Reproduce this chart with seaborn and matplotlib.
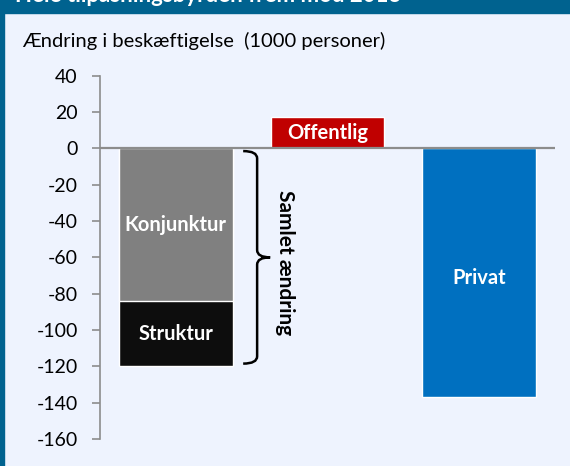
import pandas as pd
import numpy as np
import matplotlib
matplotlib.use("Agg")
import matplotlib.pyplot as plt
from matplotlib.path import Path
from matplotlib.patches import PathPatch, Rectangle
import seaborn as sns

# --- data (1000 personer) ---
categories = ["Samlet", "Offentlig", "Privat"]
konjunktur = -84
struktur = -36
offentlig = 17
privat = -137
samlet = konjunktur + struktur

yticks = list(range(-160, 41, 20))

bg = "#eef3fe"
frame_blue = "#00628f"
col_konj = "#808080"
col_strukt = "#0d0d0d"
col_off = "#c00000"
col_priv = "#0070c0"

sns.set_theme(style="white")
plt.rcParams["font.family"] = ["Lato", "DejaVu Sans"]

fig = plt.figure(figsize=(5.70, 4.66), dpi=100, facecolor=bg)
ax = fig.add_axes([100 / 570, 1 - 439 / 466, 455 / 570, (439 - 75.7) / 466])
ax.set_facecolor(bg)

# total bar (black = struktur part shows below konjunktur)
df = pd.DataFrame({"kat": categories, "val": [samlet, offentlig, privat]})
sns.barplot(data=df, x="kat", y="val", hue="kat", order=categories,
            palette=[col_strukt, col_off, col_priv], legend=False,
            width=0.75, saturation=1, ax=ax)
# konjunktur part on top of the first bar
df_k = pd.DataFrame({"kat": ["Samlet"], "val": [konjunktur]})
sns.barplot(data=df_k, x="kat", y="val", order=categories, color=col_konj,
            width=0.75, saturation=1, ax=ax)

ax.axhline(0, color="#8c8c8c", lw=1.6, zorder=5)

ax.set_xlim(-0.5, 2.5)
ax.set_ylim(-160, 40)
ax.set_yticks(yticks)
ax.set_yticklabels([str(t) for t in yticks], fontsize=14, color="black")
ax.set_xticks([])
ax.set_xlabel("")
ax.set_ylabel("")
for s in ["top", "right", "bottom"]:
    ax.spines[s].set_visible(False)
ax.spines["left"].set_color("#8c8c8c")
ax.spines["left"].set_linewidth(1.2)
ax.tick_params(axis="y", left=True, length=6, width=1.2, color="#8c8c8c", pad=10)

# bar labels
lbl = dict(color="white", fontsize=14.5, fontweight="bold", ha="center", va="center")
ax.text(0, konjunktur / 2, "Konjunktur", **lbl)
ax.text(0, konjunktur + struktur / 2, "Struktur", **lbl)
ax.text(1, offentlig / 2, "Offentlig", **lbl)
ax.text(2, privat / 2 - 3, "Privat", **lbl)

# curly brace for samlet aendring
top, bot = -1.5, samlet + 1.5
mid = (top + bot) / 2
xh, xv, xt, r = 0.444, 0.536, 0.622, 4
verts = [(xh, top), (xv, top), (xv, top - r),
         (xv, mid + r), (xv, mid), (xt, mid),
         (xv, mid), (xv, mid - r),
         (xv, bot + r), (xv, bot), (xh, bot)]
codes = [Path.MOVETO, Path.CURVE3, Path.CURVE3,
         Path.LINETO, Path.CURVE3, Path.CURVE3,
         Path.CURVE3, Path.CURVE3,
         Path.LINETO, Path.CURVE3, Path.CURVE3]
ax.add_patch(PathPatch(Path(verts, codes), fill=False, lw=1.8, color="black",
                       clip_on=False, zorder=6))
ax.text(0.721, mid - 3, "Samlet ændring", rotation=-90, fontsize=15,
        fontweight="bold", ha="center", va="center", color="black")

# frame: header band + left stripe
fig.patches.append(Rectangle((0, 1 - 13 / 466), 1, 13 / 466, transform=fig.transFigure,
                             color=frame_blue, zorder=0))
fig.patches.append(Rectangle((0, 0), 4 / 570, 1, transform=fig.transFigure,
                             color=frame_blue, zorder=0))
fig.text(15 / 570, 1 - 2 / 466, "Hele tilpasningsbyrden frem mod 2013", color="white",
         fontsize=16, fontweight="bold", ha="left", va="baseline")

fig.text(22 / 570, 1 - 47 / 466, "Ændring i beskæftigelse  (1000 personer)",
         fontsize=14.5, ha="left", va="baseline", color="black")

fig.savefig("out.png", dpi=100, facecolor=bg)
